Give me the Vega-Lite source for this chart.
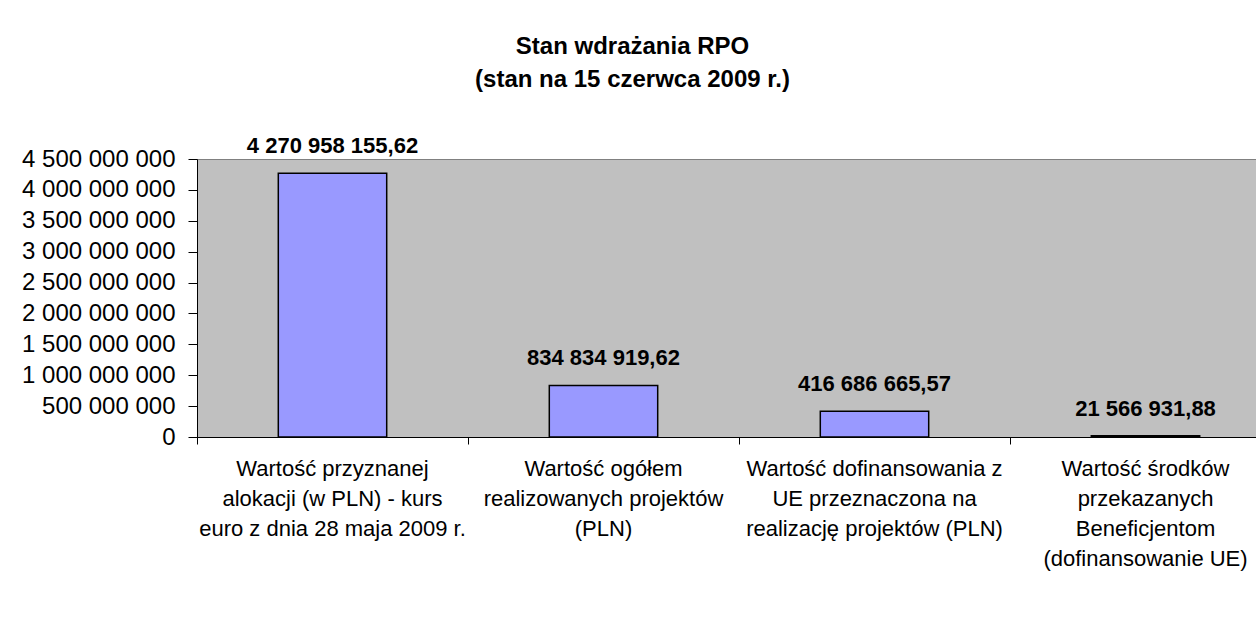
{
  "$schema": "https://vega.github.io/schema/vega-lite/v6.json",
  "width": 1059,
  "height": 278,
  "autosize": {"type": "none"},
  "padding": {"left": 197, "top": 159, "right": 0, "bottom": 197},
  "background": "white",
  "title": {
    "text": ["Stan wdrażania RPO", "(stan na 15 czerwca 2009 r.)"],
    "font": "Liberation Sans",
    "fontSize": 24,
    "fontWeight": "bold",
    "color": "black",
    "anchor": "middle",
    "frame": "group",
    "lineHeight": 33,
    "offset": 43,
    "dx": -94
  },
  "data": {
    "values": [
      {"kategoria": "Wartość przyznanej|alokacji (w PLN) - kurs|euro z dnia 28 maja 2009 r.", "wartosc": 4270958155.62},
      {"kategoria": "Wartość ogółem|realizowanych projektów|(PLN)", "wartosc": 834834919.62},
      {"kategoria": "Wartość dofinansowania z|UE przeznaczona na|realizację projektów (PLN)", "wartosc": 416686665.57},
      {"kategoria": "Wartość środków|przekazanych|Beneficjentom|(dofinansowanie UE)", "wartosc": 21566931.88}
    ]
  },
  "encoding": {
    "x": {
      "field": "kategoria",
      "type": "nominal",
      "sort": null,
      "scale": {"range": [0, 1084], "paddingInner": 0, "paddingOuter": 0},
      "axis": {
        "title": null,
        "labelAngle": 0,
        "bandPosition": 0,
        "ticks": true,
        "tickSize": 7,
        "tickColor": "black",
        "domainColor": "black",
        "labelExpr": "split(datum.label, '|')",
        "labelFont": "Liberation Sans",
        "labelFontSize": 22,
        "labelColor": "black",
        "labelLineHeight": 30,
        "labelPadding": 14,
        "labelBaseline": "top",
        "labelLimit": 0,
        "labelOverlap": false,
        "grid": false
      }
    },
    "y": {
      "field": "wartosc",
      "type": "quantitative",
      "scale": {"domain": [0, 4500000000], "nice": false},
      "axis": {
        "title": null,
        "values": [0, 500000000, 1000000000, 1500000000, 2000000000, 2500000000, 3000000000, 3500000000, 4000000000, 4500000000],
        "format": ",d",
        "grid": false,
        "domainColor": "black",
        "tickColor": "black",
        "tickSize": 9,
        "labelFont": "Liberation Sans",
        "labelFontSize": 24,
        "labelColor": "black",
        "labelPadding": 13,
        "labelOverlap": false
      }
    }
  },
  "layer": [
    {
      "mark": {"type": "bar", "width": {"band": 0.4}, "color": "#9999FF", "stroke": "black", "strokeWidth": 1.5}
    },
    {
      "mark": {"type": "text", "font": "Liberation Sans", "fontSize": 22, "fontWeight": "bold", "color": "black", "baseline": "alphabetic", "align": "center", "dy": -20},
      "encoding": {
        "text": {"field": "wartosc", "type": "quantitative", "format": ",.2f"}
      }
    }
  ],
  "config": {
    "locale": {
      "number": {"decimal": ",", "thousands": " ", "grouping": [3], "currency": ["", " zł"]}
    },
    "view": {"fill": "#C0C0C0", "stroke": "#808080", "strokeWidth": 1}
  }
}
